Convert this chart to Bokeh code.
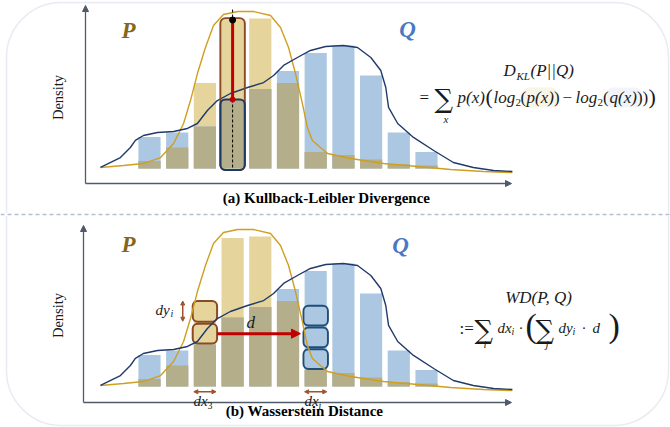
import numpy as np
from bokeh.plotting import figure
from bokeh.models import Range1d, Label, Arrow, NormalHead, BoxAnnotation, Span
from bokeh.embed import file_html
from bokeh.resources import INLINE

# ---------------- data ----------------
bins = [1, 2, 3, 4, 5, 6, 7, 8, 9, 10, 11]
p_density = [0.05, 0.14, 0.57, 0.99, 1.00, 0.57, 0.11, 0.09, 0.06, 0.03, 0.02]
q_density = [0.21, 0.24, 0.28, 0.46, 0.53, 0.65, 0.77, 0.82, 0.62, 0.24, 0.11]

p_curve_x = [-0.77, 0.06, 0.78, 1.40, 1.87, 2.23, 2.48, 2.73, 3.02, 3.31, 3.67, 4.18, 4.75,
             5.37, 5.73, 6.02, 6.27, 6.52, 6.70, 6.88, 7.17, 7.43, 8.26, 9.45, 10.68, 11.87,
             13.06, 14.1]
p_curve_y = [0.007, 0.02, 0.033, 0.073, 0.167, 0.30, 0.453, 0.633, 0.807, 0.953, 1.027, 1.047,
             1.047, 1.02, 0.94, 0.807, 0.633, 0.433, 0.273, 0.187, 0.14, 0.10, 0.067, 0.033,
             0.013, -0.007, -0.02, -0.027]
q_curve_x = [-0.77, -0.05, 0.31, 0.49, 0.78, 1.29, 1.87, 2.37, 2.73, 3.09, 3.45, 3.92, 4.54,
             5.12, 5.48, 5.84, 6.34, 6.81, 7.36, 8.00, 8.51, 8.99, 9.35, 9.53, 9.63, 9.96,
             10.53, 11.26, 11.97, 12.69, 13.42, 14.1]
q_curve_y = [0.007, 0.073, 0.14, 0.187, 0.22, 0.24, 0.247, 0.267, 0.30, 0.387, 0.453, 0.50,
             0.54, 0.573, 0.62, 0.687, 0.74, 0.787, 0.813, 0.82, 0.807, 0.74, 0.653, 0.54,
             0.407, 0.30, 0.207, 0.12, 0.04, 0.007, -0.013, -0.02]

kl_bin = 4          # highlighted bin in (a)
wd_from_bin = 3     # source bin in (b)
wd_to_bin = 7       # target bin in (b)

# ---------------- style ----------------
GOLD = "#e5d49c"
BLUE = "#abc7e2"
OLIVE = "#b4ae8b"
PCUR = "#cf9f1f"
QCUR = "#1f3a6b"
BROWN = "#8b4a22"
NAVY = "#1f3864"
RED = "#c00000"
AXC = "#4f5b6b"
FRAME = "#b4bfd4"
TXT = "#1a1a1a"
SERIF = "'Liberation Serif'"

W, H = 670, 427
X0, DX, SCALE = 149.0, 27.7, 150.0
UP_BASE, LO_BASE = 168.0, 386.0


def Y(ry):
    return H - ry


def fx(xd):
    return X0 + (xd - 1) * DX


def fy(yd, base):
    return Y(base) + yd * SCALE


p = figure(width=W, height=H, x_range=Range1d(0, W), y_range=Range1d(0, H),
           output_backend="svg", toolbar_location=None, min_border=0,
           x_axis_location=None, y_axis_location=None, outline_line_color=None,
           background_fill_color="white", border_fill_color="white")
p.grid.visible = False

# frame
p.add_layout(BoxAnnotation(left=6, right=668, top=Y(2), bottom=Y(214), fill_color=None,
                           fill_alpha=0, line_color=FRAME, line_width=1.5, level="underlay",
                           border_radius=dict(top_left=55, top_right=55, bottom_right=0, bottom_left=0)))
p.add_layout(BoxAnnotation(left=6, right=668, top=Y(214), bottom=Y(425), fill_color=None,
                           fill_alpha=0, line_color=FRAME, line_width=1.5, level="underlay",
                           border_radius=dict(top_left=0, top_right=0, bottom_right=55, bottom_left=55)))
p.add_layout(Span(location=Y(214), dimension="width", line_color="white", line_width=3))
p.add_layout(Span(location=Y(214), dimension="width", line_color=FRAME, line_width=1.3,
                  line_dash="4 3"))

overlap = [min(a, b) for a, b in zip(p_density, q_density)]


def panel(base):
    sub = p.subplot(x_source=Range1d(0, 12), y_source=Range1d(0, 1),
                    x_target=Range1d(fx(0), fx(12)), y_target=Range1d(Y(base), Y(base) + SCALE))
    sub.vbar(x=bins, top=p_density, width=0.8, fill_color=GOLD, line_color=None)
    sub.vbar(x=bins, top=q_density, width=0.8, fill_color=BLUE, line_color=None)
    sub.vbar(x=bins, top=overlap, width=0.8, fill_color=OLIVE, line_color=None)
    return sub


def curves(sub):
    sub.line(p_curve_x, p_curve_y, line_color=PCUR, line_width=1.4)
    sub.line(q_curve_x, q_curve_y, line_color=QCUR, line_width=1.4)


def lab(x, ry, text, size=17, style="italic", font=SERIF, align="left", color=TXT, angle=0.0):
    p.add_layout(Label(x=x, y=Y(ry), text=text, text_font=font, text_font_size=f"{size}px",
                       text_font_style=style, text_align=align, text_baseline="middle",
                       text_color=color, angle=angle))


def axes(x_ax, base_y, top_y):
    head = dict(size=6, fill_color=AXC, line_color=AXC)
    p.add_layout(Arrow(end=NormalHead(**head), x_start=x_ax, y_start=Y(base_y), x_end=x_ax,
                       y_end=Y(top_y), line_color=AXC, line_width=1.3))
    p.add_layout(Arrow(end=NormalHead(**head), x_start=x_ax, y_start=Y(base_y), x_end=511,
                       y_end=Y(base_y), line_color=AXC, line_width=1.3))


# ---------------- (a) KL ----------------
up = panel(UP_BASE)
curves(up)
k = kl_bin - 1
up.quad(left=kl_bin - 0.44, right=kl_bin + 0.44, top=p_density[k] + 0.012, bottom=-0.01,
        fill_color=None, line_color=BROWN, line_width=2, border_radius=5)
up.quad(left=kl_bin - 0.44, right=kl_bin + 0.44, top=q_density[k], bottom=-0.01,
        fill_color=None, line_color=NAVY, line_width=2, border_radius=5)
up.segment(x0=kl_bin, y0=1.06, x1=kl_bin, y1=0, line_color="black", line_width=1, line_dash="3 2")
up.segment(x0=kl_bin, y0=p_density[k], x1=kl_bin, y1=q_density[k], line_color=RED, line_width=3)
up.scatter([kl_bin], [p_density[k]], size=6, color="black")
up.scatter([kl_bin], [q_density[k]], size=5, color=RED)
axes(85, 183, 5)

lab(57, 97, "Density", size=14.5, style="normal", align="center", angle=np.pi / 2)
lab(128, 30, "P", size=23, style="bold italic", align="center", color="#86661a")
lab(407, 29, "Q", size=23, style="bold italic", align="center", color="#4a78c2")
lab(326, 197, "(a) Kullback-Leibler Divergence", size=15, style="bold", align="center",
    color="black")

# formula (a)
p.add_layout(BoxAnnotation(left=522, right=557, top=Y(87), bottom=Y(107), fill_color="#efe4c6",
                           line_color=None, border_radius=6, level="underlay"))
p.add_layout(BoxAnnotation(left=606, right=641, top=Y(87), bottom=Y(107), fill_color="#dbe6f1",
                           line_color=None, border_radius=6, level="underlay"))
lab(503, 70, "D")
lab(516, 75, "KL", size=11)
lab(530, 70, "(P||Q)")
lab(419, 97, "=", style="normal")
lab(434, 98, "\u2211", size=26, style="normal", font="DejaVu Serif")
lab(443, 118, "x", size=11)
lab(457, 97, "p(x)")
lab(485, 96, "(", size=22, style="normal")
lab(493, 97, "log")
lab(515, 102, "2", size=11, style="normal")
lab(520, 97, "(", style="normal")
lab(526, 97, "p(x)")
lab(553.5, 97, ")", style="normal")
lab(562, 97, "\u2212", style="normal")
lab(575, 97, "log")
lab(597, 102, "2", size=11, style="normal")
lab(602.5, 97, "(", style="normal")
lab(609, 97, "q(x)")
lab(636.5, 97, ")", style="normal")
lab(642, 97, ")", style="normal")
lab(648, 96, ")", size=22, style="normal")

# ---------------- (b) Wasserstein ----------------
lo = panel(LO_BASE)
s = wd_from_bin - 1
t = wd_to_bin - 1
dy = (p_density[s] - q_density[s]) / 2
lo.quad(left=[wd_from_bin - 0.44] * 2, right=[wd_from_bin + 0.44] * 2,
        bottom=[q_density[s] + 0.007, q_density[s] + dy + 0.007],
        top=[q_density[s] + dy - 0.007, p_density[s]],
        fill_color=GOLD, line_color=BROWN, line_width=2, border_radius=5)
lo.quad(left=[wd_to_bin - 0.44] * 3, right=[wd_to_bin + 0.44] * 3,
        bottom=[p_density[t] + 0.007 + i * dy for i in range(3)],
        top=[p_density[t] - 0.007 + (i + 1) * dy for i in range(3)],
        fill_color=None, line_color="#1f4e79", line_width=2, border_radius=5)
curves(lo)
axes(83, 402, 225)

ay = fy(q_density[s] + dy / 2, LO_BASE)
p.add_layout(Arrow(end=NormalHead(size=9, fill_color=RED, line_color=RED),
                   x_start=fx(wd_from_bin + 0.45), y_start=ay, x_end=fx(wd_to_bin - 0.55), y_end=ay,
                   line_color=RED, line_width=3))
bh = dict(size=4, fill_color="#a0522d", line_color="#a0522d")
p.add_layout(Arrow(start=NormalHead(**bh), end=NormalHead(**bh), x_start=fx(wd_from_bin - 0.8),
                   y_start=fy(p_density[s], LO_BASE), x_end=fx(wd_from_bin - 0.8),
                   y_end=fy(q_density[s] + dy + 0.01, LO_BASE), line_color="#a0522d", line_width=1.5))
for b in (wd_from_bin, wd_to_bin):
    p.add_layout(Arrow(start=NormalHead(**bh), end=NormalHead(**bh), x_start=fx(b - 0.4),
                       y_start=fy(-0.035, LO_BASE), x_end=fx(b + 0.4), y_end=fy(-0.035, LO_BASE),
                       line_color="#a0522d", line_width=1.5))

lab(57, 315, "Density", size=14.5, style="normal", align="center", angle=np.pi / 2)
lab(128, 244, "P", size=23, style="bold italic", align="center", color="#86661a")
lab(400, 245, "Q", size=23, style="bold italic", align="center", color="#4a78c2")
lab(304, 410, "(b) Wasserstein Distance", size=15, style="bold", align="center", color="black")

lab(155, 309, "dy", size=15)
lab(170, 313, "i", size=10)
lab(246, 322, "d", size=17)
lab(193, 400, "dx", size=15)
lab(207, 405, "3", size=10, style="normal")
lab(304, 400, "dx", size=15)
lab(318, 405, "i", size=10)

# formula (b)
lab(538, 297, "WD(P, Q)", align="center")
lab(459, 328, ":=", style="normal")
lab(474, 329, "\u2211", size=26, style="normal", font="DejaVu Serif")
lab(483, 343, "i", size=11)
lab(497, 327, "dx", size=15)
lab(511, 331, "i", size=10)
lab(518, 327, "\u00b7", size=15, style="normal")
lab(525, 325, "(", size=34, style="normal")
lab(535, 329, "\u2211", size=26, style="normal", font="DejaVu Serif")
lab(545, 343, "j", size=11)
lab(558, 327, "dy", size=15)
lab(572, 331, "i", size=10)
lab(581, 327, "\u00b7", size=15, style="normal")
lab(592, 327, "d", size=15)
lab(608, 325, ")", size=34, style="normal")

open("out.html", "w").write(file_html(p, INLINE))
